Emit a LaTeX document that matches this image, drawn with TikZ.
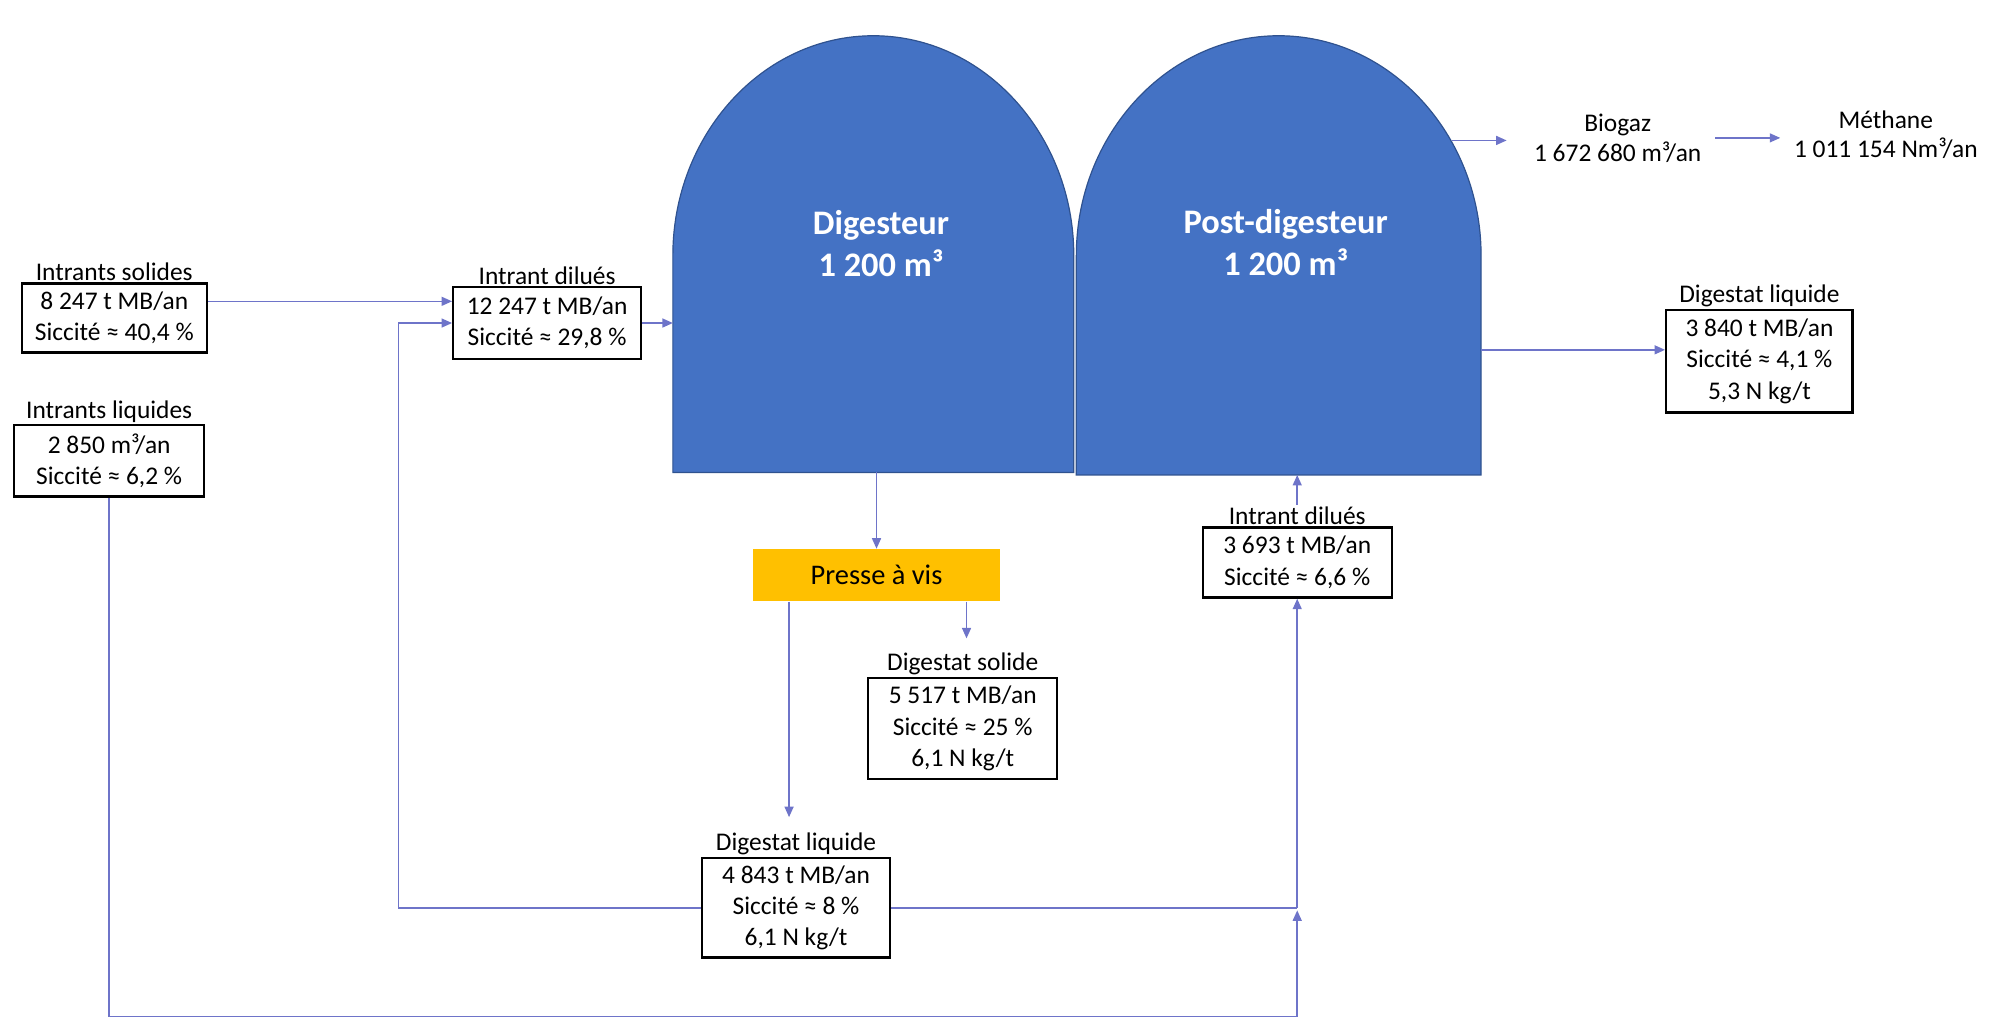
\documentclass[tikz,border=0pt]{standalone}
\usepackage{fontspec}
\setmainfont{Carlito}
\usetikzlibrary{arrows.meta,positioning,calc}
\definecolor{bgTank}{HTML}{4472C4}
\definecolor{bgTankEdge}{HTML}{2F528F}
\definecolor{bgFlow}{HTML}{6E74C9}
\definecolor{bgPress}{HTML}{FFC000}

\begin{document}
\begin{tikzpicture}[x=0.03cm,y=-0.03cm,>={Triangle[length=7pt,width=6pt]},
      fx/.style={draw=black,line width=1.6pt,fill=white,inner sep=0pt,align=center,
                 font=\fontsize{17}{21}\selectfont},
      tag/.style={inner sep=1pt,align=center,font=\fontsize{17}{20}\selectfont},
      flow/.style={draw=bgFlow,line width=1pt},
      tank/.style={fill=bgTank,draw=bgTankEdge,line width=0.8pt},
      ttl/.style={text=white,align=center,font=\bfseries\fontsize{23}{28}\selectfont}]
    \useasboundingbox (0,0) rectangle (1568,796);
    % cuves
    \path[tank] (527,370) -- (527,200) .. controls (527,106) and (597,28) .. (684,28)
       .. controls (771,28) and (841,106) .. (841,200) -- (841,370) -- cycle;
    \path[tank] (843,372) -- (843,200) .. controls (843,106) and (914,28) .. (1001.5,28)
       .. controls (1089,28) and (1160,106) .. (1160,200) -- (1160,372) -- cycle;
    \node[ttl] (dig) at (690,191) {Digesteur\\1 200 m³};
    \node[ttl] (post) at (1007,190) {Post-digesteur\\1 200 m³};
    \coordinate (digL) at (527,254);
    \coordinate (digB) at (687,370);
    \coordinate (postB) at (1016,372);
    \coordinate (postR) at (1160,274);
    \coordinate (postG) at (1137,110);
    \coordinate (bioin) at (1180,110);
    % entrees
    \node[fx,minimum width=4.35cm,minimum height=1.62cm,label={[tag]above:Intrants solides}] (sol)
       at (89.5,249) {8 247 t MB/an\\Siccité ≈ 40,4 \%};
    \node[fx,minimum width=4.47cm,minimum height=1.68cm,label={[tag]above:Intrants liquides}] (liq)
       at (85.5,361) {2 850 m³/an\\Siccité ≈ 6,2 \%};
    \node[fx,minimum width=4.41cm,minimum height=1.68cm,label={[tag]above:Intrant dilués}] (dil1)
       at (428.5,253) {12 247 t MB/an\\Siccité ≈ 29,8 \%};
    \node[fx,minimum width=4.44cm,minimum height=1.65cm,label={[tag,name=dil2tag]above:Intrant dilués}] (dil2)
       at (1016,440.5) {3 693 t MB/an\\Siccité ≈ 6,6 \%};
    % sorties
    \node[tag] (bio) at (1267,108) {Biogaz\\1 672 680 m³/an};
    \node[tag] (meth) at (1477,105.5) {Méthane\\1 011 154 Nm³/an};
    \node[fx,minimum width=4.38cm,minimum height=2.4cm,label={[tag]above:Digestat liquide}] (outliq)
       at (1378,283) {3 840 t MB/an\\Siccité ≈ 4,1 \%\\5,3 N kg/t};
    \node[fill=bgPress,minimum width=5.79cm,minimum height=1.23cm,font=\fontsize{19}{22}\selectfont] (press)
       at (686.5,450.5) {Presse à vis};
    \node[fx,minimum width=4.44cm,minimum height=2.37cm,label={[tag]above:Digestat solide}] (sold)
       at (754,570.5) {5 517 t MB/an\\Siccité ≈ 25 \%\\6,1 N kg/t};
    \node[fx,minimum width=4.41cm,minimum height=2.34cm,label={[tag]above:Digestat liquide}] (pliq)
       at (623.5,711) {4 843 t MB/an\\Siccité ≈ 8 \%\\6,1 N kg/t};
    \coordinate (solout) at ($(sol.east)+(0,-13)$);
    \coordinate (solin) at (757,500);
    \coordinate (liqin) at (618,640);
    \coordinate (junc) at (dil2.south |- pliq.east);
    % flux
    \draw[flow,->] (solout) -- (solout -| dil1.west);
    \draw[flow,->] (dil1.east) -- (dil1.east -| digL);
    \draw[flow,->] (pliq.west) -- ++(-237,0) |- (dil1.west);
    \draw[flow,->] (press.north |- digB) -- (press.north);
    \draw[flow,->] (solin |- press.south) -- (solin);
    \draw[flow,->] (liqin |- press.south) -- (liqin);
    \draw[flow] (pliq.east) -- (junc);
    \draw[flow,->] (liq.south) -- ++(0,406) -| ($(junc)+(0,2)$);
    \draw[flow,->] (junc) -- (dil2.south);
    \draw[flow,->] (dil2.north |- dil2tag.north) -- (dil2.north |- postB);
    \draw[flow,->] (postR) -- (postR -| outliq.west);
    \draw[flow,->] (postG) -- (bioin);
    \draw[flow,->,shorten <=8pt,shorten >=8pt] (bio.east) -- (bio.east -| meth.west);
  \end{tikzpicture}
\end{document}
